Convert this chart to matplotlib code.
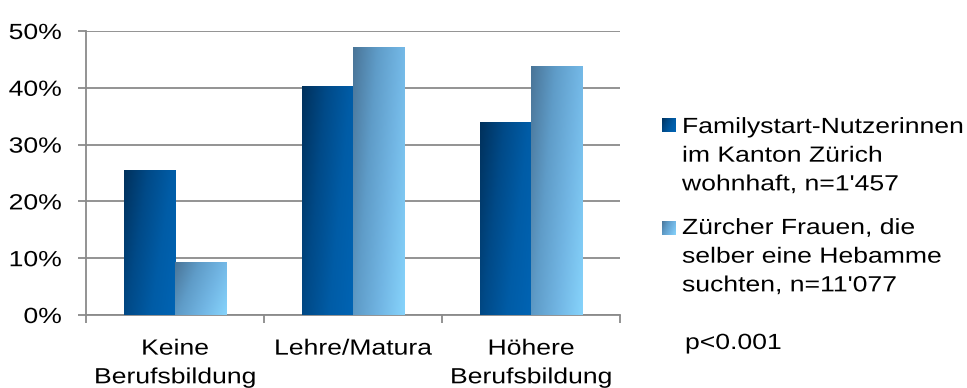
import numpy as np
import matplotlib
matplotlib.use("Agg")
import matplotlib.pyplot as plt
from matplotlib.colors import LinearSegmentedColormap
from matplotlib.ticker import FixedLocator, PercentFormatter
from matplotlib.patheffects import AbstractPathEffect
from matplotlib.transforms import Affine2D

categories = ["Keine\nBerufsbildung", "Lehre/Matura", "Höhere\nBerufsbildung"]
series_names = ["Familystart-Nutzerinnen\nim Kanton Zürich\nwohnhaft, n=1'457",
                "Zürcher Frauen, die\nselber eine Hebamme\nsuchten, n=11'077"]
familystart = [25.6, 40.4, 34.0]
zuercher = [9.3, 47.1, 43.8]
p_text = "p<0.001"

plt.rcParams['font.family'] = ['Liberation Sans', 'DejaVu Sans']
FS = 15.8
LS = 1.48
SX = 1.21  # horizontal stretch of the reference's text


class HStretch(AbstractPathEffect):
    """Stretch text glyphs horizontally about left/center/right of each line."""
    def __init__(self, sx, anchor='left'):
        super().__init__()
        self.sx = sx
        self.anchor = anchor

    def draw_path(self, renderer, gc, tpath, affine, rgbFace=None):
        ext = tpath.get_extents()
        if self.anchor == 'left':
            cx = 0.0
        elif self.anchor == 'center':
            cx = 0.5 * (ext.x0 + ext.x1)
        else:
            cx = ext.x1
        t = Affine2D().translate(-cx, 0).scale(self.sx, 1).translate(cx, 0) + affine
        renderer.draw_path(gc, tpath, t, rgbFace)


cmap_dark = LinearSegmentedColormap.from_list("d", ["#00315c", "#004a88", "#005ca6", "#0064b4"])
cmap_light = LinearSegmentedColormap.from_list("l", ["#4a7598", "#5f9cc8", "#72b6e4", "#86d3fb"])

fig = plt.figure(figsize=(9.67, 3.88), dpi=100)
ax = fig.add_axes([86/967, 1-315/388, (620-86)/967, (315-31)/388])

x = np.arange(len(categories))
w = 0.287

def grad_img():
    n = 64
    u = np.linspace(0, 1, n)[None, :]
    v = np.linspace(0, 1, n)[:, None]  # 0 top, 1 bottom (origin upper)
    t = 0.7 * u + 0.3 * v
    return t / t.max()

G = grad_img()
for vals, off, cm in [(familystart, -w/2, cmap_dark), (zuercher, w/2, cmap_light)]:
    bars = ax.bar(x + off, vals, width=w, color=cm(0.6), edgecolor='none', zorder=3)
    for b in bars:
        bx, by = b.get_x(), b.get_y()
        bw, bh = b.get_width(), b.get_height()
        im = ax.imshow(G, cmap=cm, extent=[bx, bx+bw, by, by+bh], origin='upper',
                       aspect='auto', zorder=4, interpolation='bilinear')
        im.set_clip_path(b)

ax.set_xlim(-0.5, 2.5)
ax.set_ylim(0, 50)
ax.set_aspect('auto')

ax.yaxis.set_major_locator(FixedLocator([0, 10, 20, 30, 40, 50]))
ax.yaxis.set_major_formatter(PercentFormatter(decimals=0))
ax.grid(axis='y', color='#8a8a8a', linewidth=1.3, zorder=1)
ax.set_axisbelow(True)

ax.set_xticks([-0.5, 0.5, 1.5, 2.5])
ax.set_xticklabels([])
ax.set_xticks(x, minor=True)
ax.set_xticklabels(categories, minor=True, fontsize=FS, linespacing=LS)
ax.tick_params(axis='x', which='major', length=6, width=1.3, color='#8a8a8a', direction='out')
ax.tick_params(axis='x', which='minor', length=0, pad=17)
ax.tick_params(axis='y', length=6, width=1.3, color='#8a8a8a', labelsize=FS, pad=11.5)

for s in ['top', 'right']:
    ax.spines[s].set_visible(False)
for s in ['left', 'bottom']:
    ax.spines[s].set_color('#8a8a8a')
    ax.spines[s].set_linewidth(1.3)

# legend (manual)
def legend_square(px, py, cm):
    la = fig.add_axes([px/967, 1-(py+14)/388, 14/967, 14/388])
    la.imshow(G, cmap=cm, aspect='auto', interpolation='bilinear')
    la.axis('off')

legend_square(662, 118, cmap_dark)
legend_square(662, 221, cmap_light)
left_fx = [HStretch(SX, 'left')]
fig.text(682/967, 1-117/388, series_names[0], fontsize=FS, va='top', ha='left',
         linespacing=LS, path_effects=left_fx)
fig.text(682/967, 1-218/388, series_names[1], fontsize=FS, va='top', ha='left',
         linespacing=LS, path_effects=left_fx)
fig.text(685/967, 1-333/388, p_text, fontsize=FS, va='top', ha='left', path_effects=left_fx)

fig.canvas.draw()
for lbl in ax.get_yticklabels():
    lbl.set_path_effects([HStretch(SX, 'right')])
for lbl in ax.get_xticklabels(minor=True):
    lbl.set_path_effects([HStretch(SX, 'center')])

fig.savefig("out.png", dpi=100)
